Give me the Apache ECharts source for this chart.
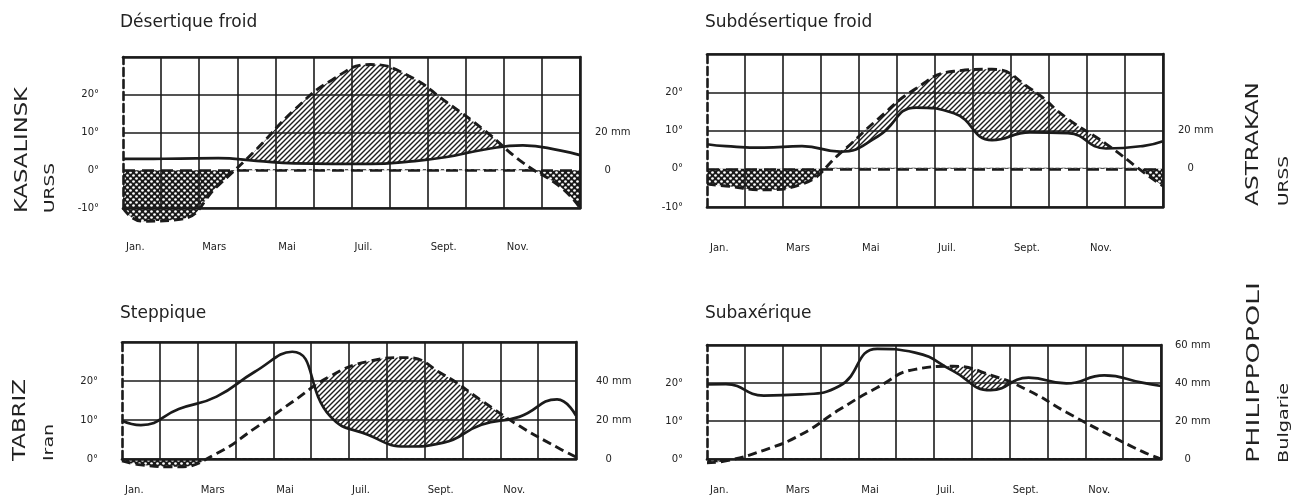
<!DOCTYPE html>
<html>
<head>
<meta charset="utf-8">
<title>Diagrammes ombrothermiques</title>
<script src="https://cdn.jsdelivr.net/npm/echarts@6/dist/echarts.min.js"></script>
<style>
  html, body { margin: 0; padding: 0; background: #fff; }
  #chart { width: 1294px; height: 498px; }
</style>
</head>
<body>
<div id="chart"></div>
<script>
// valeurs : bord gauche, milieu de chaque mois, bord droit
var monthPos = [0, 0.5, 1.5, 2.5, 3.5, 4.5, 5.5, 6.5, 7.5, 8.5, 9.5, 10.5, 11.5, 12];
var monthLabels = ['Jan.', 'Mars', 'Mai', 'Juil.', 'Sept.', 'Nov.'];

// températures en °C, pluies en mm (échelle P = 2T)
var kasalinskTemp = [-10, -13.5, -13, -4, 5.5, 16, 24, 28, 25, 18, 10.5, 2, -4.5, -10];
var kasalinskRain = [6, 6, 6.2, 6.4, 5, 3.6, 3.4, 3.4, 4.6, 7, 11, 13.2, 10.4, 8];

var astrakanTemp = [-4, -4.5, -5.5, -4, 4, 13, 21, 25.5, 26, 21, 13, 6.5, -1, -4.5];
var astrakanRain = [12.8, 11.8, 11, 11.8, 9, 17, 32, 29, 15, 19, 18.6, 10.6, 12, 14.4];

var tabrizTemp = [-0.5, -1.5, -2, 1.4, 7.8, 14.6, 21.2, 25, 26, 21.6, 15, 8.5, 3, 0.5];
var tabrizRain = [19.6, 17.4, 25.6, 32, 44.6, 55, 22, 12.4, 6.4, 8.4, 17.6, 21.6, 30.6, 22.2];

var philippopoliTemp = [-1, -0.5, 2.3, 6.5, 13, 18.8, 23.6, 24.4, 22.1, 18, 12.3, 7, 2, 0];
var philippopoliRain = [39.2, 39.4, 33.4, 34, 38.4, 58, 56, 46.4, 36.2, 42.8, 39.8, 44, 40.2, 38.4];

var tempTicksTop = [-10, 0, 10, 20];
var tempTicksBottom = [0, 10, 20];
var mmTicksTop = [0, 20];
var mmTicksTabriz = [0, 20, 40];
var mmTicksPhilippopoli = [0, 20, 40, 60];

var INK = '#1b1b1b';
var FONT = '"DejaVu Sans", sans-serif';

function hatchPattern() {
  var c = document.createElement('canvas');
  c.width = 5; c.height = 5;
  var ctx = c.getContext('2d');
  ctx.strokeStyle = '#1e1e1e';
  ctx.lineWidth = 1.4;
  ctx.beginPath();
  ctx.moveTo(0, 5); ctx.lineTo(5, 0);
  ctx.moveTo(-1, 1); ctx.lineTo(1, -1);
  ctx.moveTo(4, 6); ctx.lineTo(6, 4);
  ctx.stroke();
  return c;
}

function frostPattern() {
  var c = document.createElement('canvas');
  c.width = 6; c.height = 6;
  var ctx = c.getContext('2d');
  ctx.fillStyle = '#1a1a1a';
  ctx.fillRect(0, 0, 6, 6);
  ctx.fillStyle = '#fff';
  ctx.beginPath(); ctx.arc(1.5, 1.5, 1.35, 0, Math.PI * 2); ctx.fill();
  ctx.beginPath(); ctx.arc(4.5, 4.5, 1.35, 0, Math.PI * 2); ctx.fill();
  return c;
}

var hatch = hatchPattern();
var frost = frostPattern();

function pairs(vals) {
  return monthPos.map(function (x, i) { return [x, vals[i]]; });
}
function rainToDeg(vals) {
  return vals.map(function (v) { return v / 2; });
}

var measureCtx = document.createElement('canvas').getContext('2d');
function textWidth(text, font) {
  measureCtx.font = font;
  return measureCtx.measureText(text).width;
}

var panels = [
  {
    title: 'Désertique froid', titleX: 120, titleY: 23,
    station: 'KASALINSK', country: 'URSS', stationX: 23, countryX: 50, nameBottom: 213,
    stationLen: 126, countryLen: 50,
    temp: kasalinskTemp, rain: kasalinskRain, tMin: -10, tMax: 30, frostMin: -16,
    tTicks: tempTicksTop, mmTicks: mmTicksTop,
    box: { left: 123, top: 57, width: 457, height: 151 },
    xMargin: 34, yMargin: 24, mmMargin: 15
  },
  {
    title: 'Subdésertique froid', titleX: 705, titleY: 23,
    station: 'ASTRAKAN', country: 'URSS', stationX: 1254, countryX: 1284, nameBottom: 206,
    stationLen: 124, countryLen: 50,
    temp: astrakanTemp, rain: astrakanRain, tMin: -10, tMax: 30, frostMin: -16,
    tTicks: tempTicksTop, mmTicks: mmTicksTop,
    box: { left: 707, top: 54, width: 456, height: 153 },
    xMargin: 36, yMargin: 24, mmMargin: 15
  },
  {
    title: 'Steppique', titleX: 120, titleY: 314,
    station: 'TABRIZ', country: 'Iran', stationX: 21, countryX: 49, nameBottom: 461,
    stationLen: 82, countryLen: 37,
    temp: tabrizTemp, rain: tabrizRain, tMin: 0, tMax: 30, frostMin: -6,
    tTicks: tempTicksBottom, mmTicks: mmTicksTabriz,
    box: { left: 122, top: 342, width: 454, height: 117 },
    xMargin: 26, yMargin: 24, mmMargin: 20
  },
  {
    title: 'Subaxérique', titleX: 705, titleY: 314,
    station: 'PHILIPPOPOLI', country: 'Bulgarie', stationX: 1255, countryX: 1284, nameBottom: 463,
    stationLen: 181, countryLen: 80,
    temp: philippopoliTemp, rain: philippopoliRain, tMin: 0, tMax: 30, frostMin: -6,
    tTicks: tempTicksBottom, mmTicks: mmTicksPhilippopoli,
    box: { left: 707, top: 345, width: 454, height: 114 },
    xMargin: 26, yMargin: 24, mmMargin: 14
  }
];

var grids = [], xAxes = [], yAxes = [], series = [], graphics = [];

var vColors = [];
for (var k = 0; k <= 12; k++) vColors.push(k === 0 ? 'rgba(0,0,0,0)' : INK);

panels.forEach(function (p, i) {
  var b = p.box;
  var degPx = b.height / (p.tMax - p.tMin);
  var hColors = [];
  for (var v = p.tMin; v <= p.tMax; v += 10) hColors.push(v === 0 && p.tMin < 0 ? 'rgba(0,0,0,0)' : INK);

  grids.push({ left: b.left, top: b.top, width: b.width, height: b.height, show: false });
  // grille cachée sous 0° pour les zones de gel
  grids.push({ left: b.left, top: b.top + p.tMax * degPx, width: b.width, height: -p.frostMin * degPx, show: false });

  xAxes.push({
    gridIndex: 2 * i, type: 'value', min: 0, max: 12, interval: 1, position: 'bottom', z: 10,
    axisLine: { onZero: false, lineStyle: { color: INK, width: 2.6 } },
    axisTick: { show: false },
    splitLine: { show: true, lineStyle: { color: vColors, width: 1.6 } },
    axisLabel: {
      margin: p.xMargin, align: 'left', padding: [0, 0, 0, 3],
      fontSize: 10, fontFamily: FONT, color: '#222',
      formatter: function (v) { return v % 2 === 0 && v < 12 ? monthLabels[v / 2] : ''; }
    }
  });
  xAxes.push({
    gridIndex: 2 * i, type: 'value', min: 0, max: 12, position: 'top', z: 10,
    axisLine: { onZero: false, lineStyle: { color: INK, width: 2.6 } },
    axisTick: { show: false }, axisLabel: { show: false }, splitLine: { show: false }
  });
  xAxes.push({ gridIndex: 2 * i + 1, type: 'value', min: 0, max: 12, show: false });

  yAxes.push({
    gridIndex: 2 * i, type: 'value', min: p.tMin, max: p.tMax, interval: 10, position: 'left', z: 10,
    axisLine: { show: true, onZero: false, lineStyle: { color: INK, width: 2.6, type: [8, 4] } },
    axisTick: { show: false },
    splitLine: { show: true, lineStyle: { color: hColors, width: 1.6 } },
    axisLabel: {
      margin: p.yMargin, fontSize: 10, fontFamily: FONT, color: '#222',
      formatter: function (v) { return p.tTicks.indexOf(v) >= 0 ? v + '°' : ''; }
    }
  });
  yAxes.push({
    gridIndex: 2 * i, type: 'value', min: 2 * p.tMin, max: 2 * p.tMax, interval: 20, position: 'right', z: 10,
    axisLine: { show: true, onZero: false, lineStyle: { color: INK, width: 2.6 } },
    axisTick: { show: false }, splitLine: { show: false },
    axisLabel: {
      margin: p.mmMargin, align: 'left', fontSize: 10, fontFamily: FONT, color: '#222',
      formatter: function (v) {
        if (p.mmTicks.indexOf(v) < 0) return '';
        return v === 0 ? '   0' : v + ' mm';
      }
    }
  });
  yAxes.push({ gridIndex: 2 * i + 1, type: 'value', min: p.frostMin, max: 0, show: false });

  var ax = 3 * i;
  var rainDeg = rainToDeg(p.rain);

  // aire sous la température (hachures), puis masque blanc sous la pluie
  series.push({
    type: 'line', xAxisIndex: ax, yAxisIndex: ax, data: pairs(p.temp),
    smooth: true, symbol: 'none', silent: true, z: 1,
    lineStyle: { opacity: 0 },
    areaStyle: { origin: 'start', opacity: 1, color: { image: hatch, repeat: 'repeat' } }
  });
  series.push({
    type: 'line', xAxisIndex: ax, yAxisIndex: ax, data: pairs(rainDeg),
    smooth: true, symbol: 'none', silent: true, z: 2,
    lineStyle: { opacity: 0 },
    areaStyle: { origin: 'start', opacity: 1, color: '#fff' }
  });
  // gel : entre la courbe et 0°
  series.push({
    type: 'line', xAxisIndex: ax + 2, yAxisIndex: ax + 2, data: pairs(p.temp),
    smooth: true, symbol: 'none', silent: true, z: 3,
    lineStyle: { opacity: 0 },
    areaStyle: { origin: 'auto', opacity: 1, color: { image: frost, repeat: 'repeat' } }
  });
  series.push({
    type: 'line', name: 'Précipitations', xAxisIndex: ax, yAxisIndex: ax, data: pairs(rainDeg),
    smooth: true, symbol: 'none', clip: false, z: 5,
    lineStyle: { color: INK, width: 2.7 }
  });
  var tempSeries = {
    type: 'line', name: 'Températures', xAxisIndex: ax, yAxisIndex: ax, data: pairs(p.temp),
    smooth: true, symbol: 'none', clip: false, z: 5,
    lineStyle: { color: INK, width: 2.9, type: [9, 5] }
  };
  if (p.tMin < 0) {
    tempSeries.markLine = {
      silent: true, symbol: ['none', 'none'], label: { show: false },
      lineStyle: { color: INK, width: 2.6, type: [12, 7] },
      data: [{ yAxis: 0 }]
    };
  }
  series.push(tempSeries);

  graphics.push({
    type: 'text', x: p.titleX, y: p.titleY,
    style: { text: p.title, font: '17px ' + FONT, fill: '#222', align: 'left', verticalAlign: 'middle' }
  });
  var sFont = '17px ' + FONT, cFont = '14px ' + FONT;
  graphics.push({
    type: 'text', x: p.stationX, y: p.nameBottom, rotation: Math.PI / 2,
    scaleX: p.stationLen / textWidth(p.station, sFont),
    style: { text: p.station, font: sFont, fill: '#222', align: 'left', verticalAlign: 'middle' }
  });
  graphics.push({
    type: 'text', x: p.countryX, y: p.nameBottom, rotation: Math.PI / 2,
    scaleX: p.countryLen / textWidth(p.country, cFont),
    style: { text: p.country, font: cFont, fill: '#222', align: 'left', verticalAlign: 'middle' }
  });
});

var chart = echarts.init(document.getElementById('chart'));
chart.setOption({
  animation: false,
  backgroundColor: '#fff',
  grid: grids,
  xAxis: xAxes,
  yAxis: yAxes,
  series: series,
  graphic: graphics
});
window.addEventListener('resize', function () {
  chart.resize();
});
</script>
</body>
</html>
